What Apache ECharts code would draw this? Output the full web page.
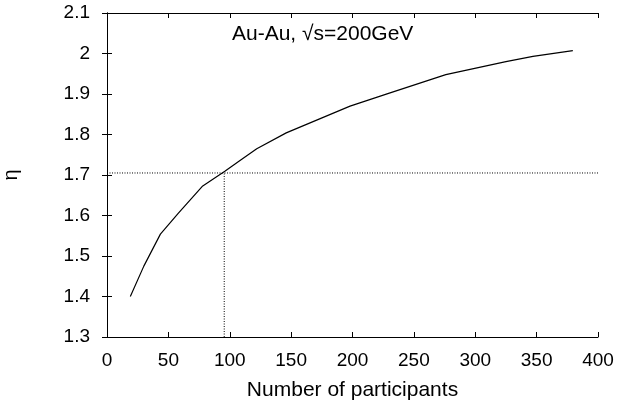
<!DOCTYPE html>
<html>
<head>
<meta charset="utf-8">
<script src="https://cdn.jsdelivr.net/npm/echarts@6/dist/echarts.min.js"></script>
<style>html,body{margin:0;padding:0;background:#fff}#c{width:631px;height:405px}</style>
</head>
<body>
<div id="c"></div>
<script>
var npart = [19, 30, 43.5, 58, 78, 96, 109.5, 122, 146, 198, 230, 276, 325, 347, 379.5];
var eta   = [1.400, 1.475, 1.554, 1.605, 1.673, 1.709, 1.738, 1.765, 1.804, 1.870, 1.902, 1.948, 1.980, 1.993, 2.007];
var refNpart = 95.5;
var refEta = 1.705;
var xTicks = [0, 400, 50];
var yTicks = [1.3, 2.1, 0.1];
var titleText = 'Au-Au, \u221As=200GeV';
var xName = 'Number of participants';
var yName = '\u03B7';

var font = 'Liberation Sans, Arial, Helvetica, sans-serif';
var chart = echarts.init(document.getElementById('c'), null, {renderer: 'canvas'});
var curve = npart.map(function (x, i) { return [x, eta[i]]; });
var hLine = [[xTicks[0], refEta], [xTicks[1], refEta]];
var vLine = [[refNpart, yTicks[0]], [refNpart, refEta]];
var axisLine = {show: true, lineStyle: {color: '#000', width: 1}};
var tick = {show: true, inside: true, length: 5, lineStyle: {color: '#000'}};
chart.setOption({
  animation: false,
  backgroundColor: '#fff',
  grid: {left: 107, right: 33, top: 13, bottom: 68, containLabel: false, outerBoundsMode: 'none'},
  graphic: [{
    type: 'text', left: 232, top: 24,
    style: {text: titleText, font: '21px ' + font, fill: '#000'}
  }],
  xAxis: [{
    type: 'value', min: xTicks[0], max: xTicks[1], interval: xTicks[2],
    axisLine: axisLine, axisTick: tick, splitLine: {show: false},
    axisLabel: {color: '#000', fontFamily: font, fontSize: 19, margin: 14},
    name: xName, nameLocation: 'middle', nameGap: 43,
    nameTextStyle: {color: '#000', fontFamily: font, fontSize: 21}
  }, {
    type: 'value', position: 'top', min: xTicks[0], max: xTicks[1], interval: xTicks[2],
    axisLine: axisLine, axisTick: tick, axisLabel: {show: false}, splitLine: {show: false}
  }],
  yAxis: [{
    type: 'value', min: yTicks[0], max: yTicks[1], interval: yTicks[2],
    axisLine: axisLine, axisTick: tick, splitLine: {show: false},
    axisLabel: {color: '#000', fontFamily: font, fontSize: 19, margin: 17,
      formatter: function (v) { return String(Math.round(v * 10) / 10); }},
    name: yName, nameLocation: 'middle', nameGap: 86, nameRotate: 90,
    nameTextStyle: {color: '#000', fontFamily: font, fontSize: 20}
  }, {
    type: 'value', position: 'right', min: yTicks[0], max: yTicks[1], interval: yTicks[2],
    axisLine: axisLine, axisTick: tick, axisLabel: {show: false}, splitLine: {show: false}
  }],
  series: [{
    type: 'line', data: curve, showSymbol: false, symbol: 'none',
    lineStyle: {color: '#000', width: 1.2}
  }, {
    type: 'line', data: hLine, showSymbol: false, symbol: 'none',
    lineStyle: {color: '#000', width: 1, type: [1, 1.5]}
  }, {
    type: 'line', data: vLine, showSymbol: false, symbol: 'none',
    lineStyle: {color: '#000', width: 1, type: [1, 1.5]}
  }]
});
</script>
</body>
</html>
